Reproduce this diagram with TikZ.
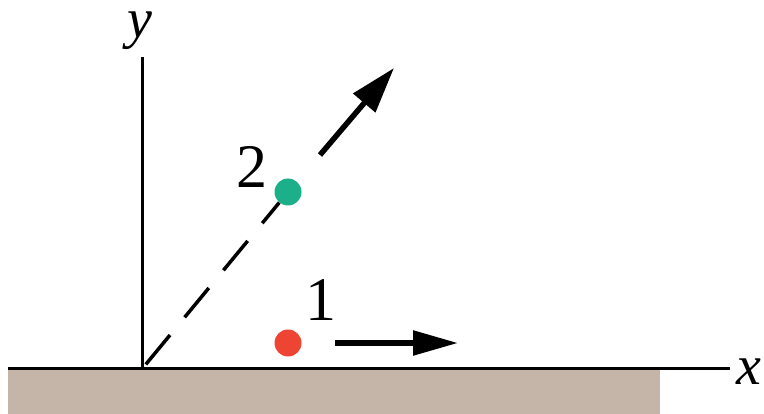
\documentclass[tikz,border=0pt]{standalone}
\usepackage{fontspec}
\setmainfont{Liberation Serif}
\usetikzlibrary{arrows.meta}
\definecolor{ground}{HTML}{C5B4A8}
\definecolor{dotgreen}{HTML}{1BAF8A}
\definecolor{dotred}{HTML}{EE4433}
\tikzset{
  axis/.style={line width=3pt, black},
  motion/.style={line width=5.5pt, black},
  dot/.style={circle, inner sep=0pt, minimum size=27pt},
  lbl/.style={font=\fontsize{62}{62}\selectfont, inner sep=0pt},
  axlbl/.style={font=\fontsize{56}{56}\selectfont\itshape, inner sep=0pt},
}
\begin{document}
\begin{tikzpicture}[x=1pt,y=-1pt]
\useasboundingbox (0,0) rectangle (764,414);
\fill[ground] (8,370) rectangle (660,414);
\coordinate (o) at (142,369);
\coordinate (xend) at (730,369);
\coordinate (xstart) at (8,369);
\coordinate (ytop) at (142,57);
\draw[axis] (xstart) -- (xend);
\draw[axis] (o) -- (ytop);
\node[axlbl] (ylab) at (140,31) {y};
\node[axlbl] (xlab) at (749,372) {x};
\node[dot, fill=dotgreen] (p2) at (288,192) {};
\node[dot, fill=dotred] (p1) at (288,343) {};
\node[lbl] (l2) at (252,167) {2};
\node[lbl] (l1) at (321,300) {1};
\draw[line width=3.5pt, dash pattern=on 38pt off 23pt, dash phase=55pt] (o) -- (p2);
\coordinate (a2s) at (320,155);
\coordinate (a2e) at (394,68);
\draw[motion, -{Triangle[length=46pt,width=28pt]}] (a2s) -- (a2e);
\coordinate (a1s) at (335,343);
\coordinate (a1e) at (458,343);
\draw[motion, -{Triangle[length=45pt,width=24pt]}] (a1s) -- (a1e);
\end{tikzpicture}
\end{document}
